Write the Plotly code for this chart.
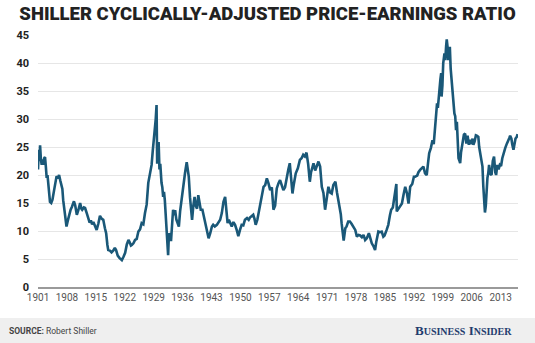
import plotly.graph_objects as go

years = [
    1901.0, 1901.2, 1901.4, 1901.5, 1901.7, 1901.9, 1902.1, 1902.3, 1902.5, 1902.7, 1902.9,
    1903.1, 1903.3, 1903.6, 1903.9, 1904.2, 1904.5, 1904.9, 1905.2, 1905.5, 1905.8,
    1906.1, 1906.4, 1906.7, 1906.9, 1907.1, 1907.5, 1907.9, 1908.2, 1908.6, 1908.9,
    1909.2, 1909.7, 1910.0, 1910.4, 1910.8, 1911.2, 1911.5, 1911.7, 1912.1, 1912.4,
    1912.8, 1913.2, 1913.5, 1913.8, 1914.1, 1914.4, 1914.8, 1915.2, 1915.6, 1916.0,
    1916.4, 1916.8, 1917.2, 1917.5, 1917.8, 1918.0, 1918.4, 1918.8, 1919.2, 1919.6,
    1919.9, 1920.3, 1920.7, 1921.0, 1921.3, 1921.7, 1922.1, 1922.5, 1922.9, 1923.2,
    1923.5, 1923.7, 1924.1, 1924.5, 1924.9, 1925.3, 1925.7, 1926.1, 1926.5, 1926.9,
    1927.3, 1927.7, 1928.1, 1928.5, 1928.8, 1929.1, 1929.3, 1929.5, 1929.7, 1929.85,
    1930.0, 1930.2, 1930.4, 1930.6, 1930.9, 1931.1, 1931.3, 1931.5, 1931.7, 1931.9,
    1932.2, 1932.4, 1932.5, 1932.7, 1933.0, 1933.2, 1933.5, 1933.7, 1934.0, 1934.2,
    1934.5, 1934.8, 1935.1, 1935.4, 1935.8, 1936.2, 1936.6, 1937.0, 1937.2, 1937.5,
    1937.8, 1938.1, 1938.3, 1938.6, 1938.9, 1939.2, 1939.5, 1939.8, 1940.1, 1940.4,
    1940.8, 1941.1, 1941.4, 1941.9, 1942.3, 1942.7, 1943.1, 1943.4, 1943.8, 1944.3,
    1944.7, 1945.1, 1945.5, 1945.9, 1946.3, 1946.6, 1946.9, 1947.2, 1947.5, 1947.9,
    1948.3, 1948.7, 1949.1, 1949.5, 1949.9, 1950.3, 1950.7, 1951.1, 1951.6, 1952.0,
    1952.3, 1952.7, 1953.1, 1953.4, 1953.7, 1954.1, 1954.5, 1954.8, 1955.2, 1955.6,
    1956.0, 1956.4, 1956.8, 1957.2, 1957.6, 1958.0, 1958.4, 1958.8, 1959.2, 1959.6,
    1960.0, 1960.4, 1960.8, 1961.2, 1961.6, 1961.95, 1962.3, 1962.6, 1962.9, 1963.4,
    1963.9, 1964.4, 1964.8, 1965.2, 1965.6, 1966.0, 1966.4, 1966.8, 1967.1, 1967.7,
    1968.1, 1968.5, 1968.9, 1969.3, 1969.7, 1970.1, 1970.5, 1970.9, 1971.3, 1971.7,
    1972.1, 1972.5, 1973.0, 1973.4, 1973.9, 1974.3, 1974.5, 1974.8, 1975.0, 1975.4,
    1975.7, 1976.1, 1976.5, 1976.9, 1977.3, 1977.8, 1978.2, 1978.6, 1979.0, 1979.4,
    1979.8, 1980.2, 1980.6, 1981.1, 1981.5, 1981.8, 1982.2, 1982.6, 1982.9, 1983.4,
    1983.8, 1984.2, 1984.6, 1984.9, 1985.4, 1985.8, 1986.2, 1986.5, 1986.9, 1987.3,
    1987.6, 1987.75, 1987.85, 1988.3, 1988.7, 1989.1, 1989.5, 1989.9, 1990.3, 1990.7,
    1991.1, 1991.6, 1992.0, 1992.3, 1992.8, 1993.1, 1993.5, 1993.9, 1994.3, 1994.7,
    1995.1, 1995.4, 1995.7, 1996.1, 1996.5, 1996.8, 1997.1, 1997.4, 1997.6, 1997.8,
    1998.1, 1998.4, 1998.6, 1998.7, 1998.9, 1999.1, 1999.4, 1999.6, 1999.8, 1999.95,
    2000.2, 2000.3, 2000.5, 2000.7, 2000.9, 2001.1, 2001.3, 2001.6, 2001.8, 2002.0,
    2002.2, 2002.4, 2002.6, 2002.8, 2003.0, 2003.2, 2003.4, 2003.6, 2003.9, 2004.1,
    2004.4, 2004.7, 2005.0, 2005.3, 2005.6, 2005.9, 2006.2, 2006.4, 2006.7, 2007.0,
    2007.3, 2007.6, 2007.8, 2008.0, 2008.3, 2008.6, 2008.8, 2009.0, 2009.2, 2009.4,
    2009.6, 2009.8, 2010.0, 2010.2, 2010.5, 2010.8, 2011.1, 2011.4, 2011.7, 2011.9,
    2012.2, 2012.5, 2012.8, 2013.1, 2013.4, 2013.7, 2014.1, 2014.5, 2014.8, 2015.1,
    2015.3, 2015.6, 2015.8, 2016.1, 2016.3, 2016.6, 2016.9, 2017.1,
]

cape = [
    21.0, 24.5, 22.5, 25.3, 22.8, 21.8, 22.8, 21.8, 23.0, 23.2, 21.5,
    19.5, 20.0, 17.0, 15.2, 15.0, 15.6, 17.3, 18.8, 19.8, 19.4,
    20.0, 19.0, 18.2, 17.5, 15.5, 13.0, 10.8, 11.8, 13.2, 13.8,
    14.3, 15.3, 14.6, 12.9, 13.8, 15.0, 14.0, 13.8, 14.2, 14.1,
    13.2, 12.3, 11.5, 11.9, 11.2, 11.6, 10.8, 10.2, 11.3, 12.7,
    12.2, 12.0, 10.5, 9.6, 7.5, 6.6, 6.5, 6.2, 6.5, 7.0,
    6.6, 5.6, 5.2, 4.9, 4.8, 5.4, 6.1, 7.6, 8.4, 8.0,
    7.4, 7.5, 7.8, 8.4, 8.6, 9.9, 10.3, 11.4, 11.2, 13.2,
    14.7, 18.6, 20.0, 21.8, 24.5, 27.0, 27.5, 30.0, 32.5, 22.0,
    24.5, 25.9, 21.0, 22.0, 18.6, 17.8, 16.1, 17.0, 15.5, 12.5,
    9.6, 7.5, 5.7, 9.6, 9.0, 8.2, 11.5, 13.8, 12.8, 13.7,
    12.0, 11.3, 10.8, 13.5, 16.1, 18.5, 20.4, 22.3, 21.5, 19.7,
    16.0, 13.0, 12.0, 14.5, 16.1, 14.5, 14.0, 16.4, 15.3, 13.8,
    13.8, 12.8, 12.0, 10.5, 8.7, 9.6, 10.8, 11.1, 10.8, 11.1,
    11.5, 12.0, 13.2, 15.2, 16.1, 13.5, 11.4, 12.0, 11.5, 10.8,
    11.6, 11.1, 10.2, 9.1, 10.2, 11.1, 11.0, 12.0, 12.3, 12.0,
    12.4, 12.6, 12.9, 12.2, 11.1, 12.0, 13.5, 14.9, 16.5, 17.9,
    18.2, 19.4, 18.5, 17.3, 17.8, 13.8, 14.5, 17.6, 18.5, 19.1,
    18.2, 17.3, 17.8, 19.7, 21.0, 22.1, 19.0, 16.7, 18.2, 20.3,
    21.2, 22.7, 23.0, 23.6, 23.3, 24.0, 22.0, 18.8, 20.5, 22.1,
    20.8, 21.8, 22.4, 21.5, 17.9, 16.8, 13.8, 15.8, 17.9, 16.9,
    16.7, 18.2, 18.8, 16.8, 14.9, 13.0, 11.4, 9.0, 8.3, 10.5,
    10.8, 11.7, 11.7, 11.3, 10.8, 10.2, 9.0, 9.3, 9.2, 8.9,
    9.3, 8.4, 8.7, 9.6, 8.6, 7.8, 7.3, 6.6, 8.1, 9.9,
    9.8, 9.9, 9.0, 9.2, 10.2, 11.1, 12.8, 13.8, 14.2, 16.1,
    17.0, 18.4, 13.5, 14.1, 14.6, 14.9, 16.5, 17.9, 16.8, 14.9,
    17.9, 18.4, 19.7, 19.7, 19.9, 20.5, 20.9, 21.3, 21.5, 20.3,
    20.0, 22.0, 23.9, 24.8, 26.2, 25.5, 28.0, 30.0, 32.8, 32.0,
    35.2, 37.0, 38.2, 34.0, 36.0, 40.0, 41.7, 40.5, 43.0, 44.2,
    42.5, 40.5, 42.0, 42.9, 39.0, 37.0, 35.8, 33.0, 31.0, 30.5,
    28.0, 29.5, 26.0, 23.0, 22.6, 22.1, 24.0, 25.1, 26.0, 27.2,
    27.4, 25.6, 27.0, 25.4, 26.3, 25.5, 26.5, 25.4, 26.0, 27.1,
    27.0, 26.8, 25.0, 23.9, 22.8, 21.5, 18.0, 15.5, 13.3, 14.5,
    17.5, 19.5, 20.3, 21.8, 20.2, 20.0, 22.5, 23.3, 20.5, 20.0,
    21.8, 21.0, 21.8, 21.6, 23.0, 24.0, 24.8, 25.6, 26.0, 26.6,
    27.0, 26.5, 25.5, 24.5, 25.3, 26.5, 26.8, 27.3,
]

x_tick_years = [1901, 1908, 1915, 1922, 1929, 1936, 1943, 1950, 1957, 1964, 1971, 1978, 1985, 1992, 1999, 2006, 2013]
x_tick_labels = [str(y) for y in x_tick_years]
y_tick_values = [0, 5, 10, 15, 20, 25, 30, 35, 40, 45]
y_tick_labels = [str(v) for v in y_tick_values]

title_text = "SHILLER CYCLICALLY-ADJUSTED PRICE-EARNINGS RATIO"
source_label = "SOURCE:"
source_name = "Robert Shiller"

W, H = 535, 343
ML, MR, MT, MB = 38, 17, 35, 56
plot_w = W - ML - MR
plot_h = H - MT - MB

def px_to_paper_x(px):
    return (px - ML) / plot_w

def py_to_paper_y(py):
    return (H - MB - py) / plot_h

fig = go.Figure()
fig.add_trace(go.Scatter(
    x=years, y=cape, mode="lines",
    line=dict(color="#1a5878", width=2.6),
    hoverinfo="skip", showlegend=False,
))

fig.update_layout(
    width=W, height=H,
    margin=dict(l=ML, r=MR, t=MT, b=MB, pad=0),
    paper_bgcolor="white", plot_bgcolor="white",
    font=dict(family="Roboto, sans-serif"),
    title=dict(
        text=title_text,
        x=0.5, xref="container", xanchor="center",
        y=1 - 14 / H, yref="container", yanchor="middle",
        font=dict(family="Roboto, sans-serif", size=18.5, color="#222222", weight=900),
    ),
    xaxis=dict(
        range=[1901, 2017.2],
        tickmode="array", tickvals=x_tick_years, ticktext=x_tick_labels,
        tickfont=dict(size=10, color="#555555"),
        showgrid=False, zeroline=False,
        showline=True, linecolor="#9a9a9a", linewidth=1.5,
        ticks="", ticklen=0,
    ),
    yaxis=dict(
        range=[0, 45],
        tickmode="array", tickvals=y_tick_values, ticktext=y_tick_labels,
        tickfont=dict(size=11, color="#222222", weight="bold"),
        showgrid=True, gridcolor="#e6e6e6", gridwidth=1,
        zeroline=False, ticks="", ticklabelstandoff=8,
    ),
    shapes=[
        dict(type="rect", xref="paper", yref="paper",
             x0=px_to_paper_x(0), x1=px_to_paper_x(W),
             y0=py_to_paper_y(H), y1=py_to_paper_y(318),
             fillcolor="#efefef", line=dict(width=0), layer="below"),
    ],
    annotations=[
        dict(xref="paper", yref="paper",
             x=px_to_paper_x(7), y=py_to_paper_y(331),
             xanchor="left", yanchor="middle", showarrow=False,
             text="<b>" + source_label + "</b> " + source_name,
             font=dict(family="Roboto, sans-serif", size=8.5, color="#444444")),
        dict(xref="paper", yref="paper",
             x=px_to_paper_x(514), y=py_to_paper_y(330),
             xanchor="right", yanchor="middle", showarrow=False,
             text="<b>B<span style='font-size:10px'>USINESS</span> I<span style='font-size:10px'>NSIDER</span></b>",
             font=dict(family="Liberation Serif, serif", size=13, color="#1f3d6e")),
    ],
)

fig.write_html("out.html")
